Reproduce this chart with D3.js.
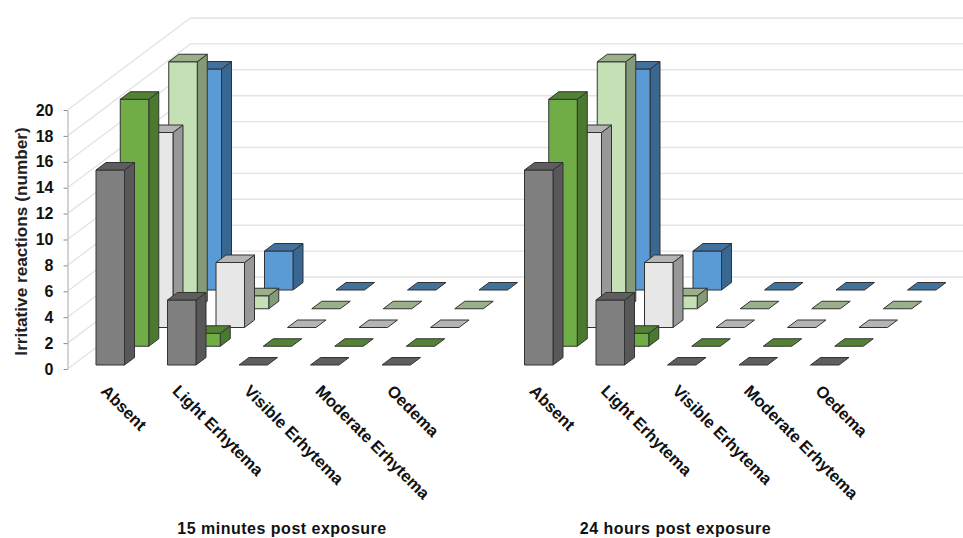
<!DOCTYPE html>
<html>
<head>
<meta charset="utf-8">
<style>
  html, body { margin: 0; padding: 0; background: #fff; }
  svg { display: block; font-family: "Liberation Sans", Arial, sans-serif; }
</style>
<script src="https://cdn.jsdelivr.net/npm/d3@7/dist/d3.min.js"></script>
</head>
<body>
<svg id="chart" width="963" height="538"></svg>
<script>
// Irritative reaction counts per grade, one panel per observation time.
const categories = ["Absent", "Light Erhytema", "Visible Erhytema", "Moderate Erhytema", "Oedema"];
const panels = ["15 minutes post exposure", "24 hours post exposure"];
const yTicks = [0, 2, 4, 6, 8, 10, 12, 14, 16, 18, 20];

// Series are listed front row first, back row last.
const seriesGrey = [15, 5, 0, 0, 0];
const seriesGreen = [19, 1, 0, 0, 0];
const seriesWhite = [15, 5, 0, 0, 0];
const seriesPale = [19, 1, 0, 0, 0];
const seriesBlue = [17, 3, 0, 0, 0];
const panelValues = [
  [seriesGrey, seriesGreen, seriesWhite, seriesPale, seriesBlue],
  [seriesGrey, seriesGreen, seriesWhite, seriesPale, seriesBlue]
];

// front / top / side shades for each row
const frontColors = ["#7f7f7f", "#70ad47", "#e7e7e7", "#c5e0b4", "#5b9bd5"];
const topColors = ["#5e5e5e", "#548235", "#b4b4b4", "#99b08a", "#41719c"];
const sideColors = ["#585858", "#4a7a2c", "#989898", "#859a78", "#386792"];

const svg = d3.select("#chart");

// Scales: value to axis position, value to bar height, row to front-edge shift, category to slot.
const y = d3.scaleLinear().domain([0, 20]).range([369, 110]);
const barHeight = d3.scaleLinear().domain([0, 20]).range([0, 260]);
const rowX = d3.scaleLinear().domain([0, 4]).range([0, 97]);
const rowY = d3.scaleLinear().domain([0, 4]).range([0, -75]);
const catX = d3.scaleLinear().domain([0, 4]).range([0, 286]);
const panelX = d3.scalePoint().domain(panels).range([0, 428.5]);

const barWidth = 28.5;
const capDx = 10;
const capDy = -7.5;
const wallDx = 123;
const wallDy = -92;
const baseY = 365; // front-row floor line

// Side wall and back wall gridlines
const grid = svg.append("g").attr("fill", "none").attr("stroke", "#e4e4e4").attr("stroke-width", 1.4);
yTicks.forEach(t => {
  grid.append("path")
    .attr("d", d3.line()([[67.5, y(t)], [67.5 + wallDx, y(t) + wallDy], [963, y(t) + wallDy]]));
});

// Value axis
const axis = d3.axisLeft(y).tickValues(yTicks).tickSize(4).tickPadding(10).tickSizeOuter(0);
const axisG = svg.append("g").attr("transform", "translate(67.5,0)").call(axis);
axisG.select(".domain").attr("stroke", "#c4c4c4").attr("stroke-width", 1.5);
axisG.selectAll(".tick line").attr("stroke", "#8c8c8c").attr("stroke-width", 1);
axisG.selectAll(".tick text")
  .attr("font-family", "'Liberation Sans', Arial, sans-serif")
  .attr("font-size", 16).attr("font-weight", 700).attr("fill", "#111");

svg.append("text")
  .attr("transform", "translate(27,241.5) rotate(-90)")
  .attr("text-anchor", "middle")
  .attr("font-size", 17.2).attr("font-weight", 700).attr("fill", "#222")
  .text("Irritative reactions (number)");

const edge = d3.line();
const titleCenters = [282, 247];

panels.forEach((panel, p) => {
  const g = svg.append("g").attr("transform", `translate(${panelX(panel)},0)`);

  // Back row first so nearer rows paint over it
  d3.range(4, -1, -1).forEach(r => {
    const values = panelValues[p][r];
    const row = g.append("g");
    categories.forEach((cat, c) => {
      const x0 = 96 + catX(c) + rowX(r);
      const x1 = x0 + barWidth;
      const yb = baseY + rowY(r);
      const yt = yb - barHeight(values[c]);
      const cube = row.append("g").attr("stroke", "#333").attr("stroke-width", 1).attr("stroke-linejoin", "round");
      if (values[c] > 0) {
        cube.append("path").attr("fill", sideColors[r])
          .attr("d", edge([[x1, yb], [x1 + capDx, yb + capDy], [x1 + capDx, yt + capDy], [x1, yt]]) + "Z");
        cube.append("rect").attr("fill", frontColors[r])
          .attr("x", x0).attr("y", yt).attr("width", barWidth).attr("height", yb - yt);
      }
      cube.append("path").attr("fill", topColors[r])
        .attr("d", edge([[x0, yt], [x1, yt], [x1 + capDx, yt + capDy], [x0 + capDx, yt + capDy]]) + "Z");
    });
  });

  // Slanted category labels
  categories.forEach((cat, c) => {
    g.append("text")
      .attr("transform", `translate(${100 + catX(c)},392) rotate(45)`)
      .attr("font-size", 16.5).attr("font-weight", 700).attr("fill", "#111")
      .text(cat);
  });

  g.append("text")
    .attr("x", titleCenters[p]).attr("y", 534)
    .attr("text-anchor", "middle")
    .attr("font-size", 16).attr("font-weight", 700).attr("letter-spacing", 0.5).attr("fill", "#111")
    .text(panel);
});
</script>
</body>
</html>
